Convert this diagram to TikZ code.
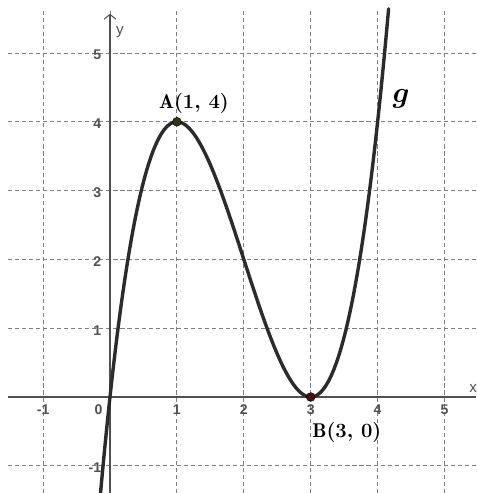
\documentclass[tikz,border=0pt]{standalone}
\usepackage{amsmath}
\usepackage{fontspec}
\newfontfamily\tickfont{Liberation Sans}
\usetikzlibrary{arrows.meta, positioning}
\tikzset{every node/.style={inner sep=1pt}}
\definecolor{gridgray}{HTML}{7E7E7E}
\definecolor{axisgray}{HTML}{505050}
\definecolor{curvegray}{HTML}{2B2B2B}
\definecolor{ptA}{HTML}{2E3A12}
\definecolor{ptB}{HTML}{4A1010}

\begin{document}
\begin{tikzpicture}[x=2.007cm, y=2.064cm,
    gridln/.style={gridgray, line width=0.75pt, dash pattern=on 3.5pt off 2.5pt},
    ticklbl/.style={font=\tickfont\bfseries\fontsize{12}{14}\selectfont, text=axisgray},
    axislbl/.style={font=\tickfont\fontsize{13}{15}\selectfont, text=axisgray},
    ptlbl/.style={font=\fontsize{17}{20}\selectfont\boldmath},
    dot/.style={circle, inner sep=0pt, minimum size=7.5pt, draw=black, line width=0.4pt}]
    \useasboundingbox (-1.644,-1.395) rectangle (5.471,5.770);
    % grid
    \foreach \i in {-1,...,5}
      \draw[gridln] (\i,-1.395) -- (\i,5.61);
    \foreach \j in {-1,...,5}
      \draw[gridln] (-1.525,\j) -- (5.471,\j);
    % axes
    \draw[axisgray, line width=0.9pt] (-1.525,0) -- (5.471,0);
    \draw[axisgray, line width=0.9pt, -{Straight Barb[length=4pt, width=10pt]}] (0,-1.395) -- (0,5.57);
    \node[axislbl] (xlbl) at (5.43,0.13) {x};
    \node[axislbl] (ylbl) at (0.15,5.31) {y};
    % tick labels
    \foreach \i in {-1,1,2,3,4,5}
      \node[ticklbl] (xt\i) at (\i,-0.19) {\i};
    \node[ticklbl] (xt0) at (-0.17,-0.19) {0};
    \foreach \j in {-1,1,2,3,4,5}
      \node[ticklbl, anchor=east] (yt\j) at (-0.11,\j-0.03) {\j};
    % curve g
    \begin{scope}
      \clip (-1.644,-1.395) rectangle (5.471,5.770);
      \draw[curvegray, line width=2.9pt, line cap=round] plot[domain=-0.16:4.165, samples=200, smooth] (\x, {\x*(\x-3)^2});
    \end{scope}
    \node[font=\fontsize{24}{28}\selectfont\boldmath] (glbl) at (4.35,4.33) {$g$};
    % points
    \node[dot, fill=ptA] (A) at (1,4) {};
    \node[dot, fill=ptB] (B) at (3,0) {};
    \node[ptlbl] (Albl) at (1.255,4.26) {$\mathrm{A}(1,\,4)$};
    \node[ptlbl] (Blbl) at (3.54,-0.51) {$\mathrm{B}(3,\,0)$};
\end{tikzpicture}
\end{document}
